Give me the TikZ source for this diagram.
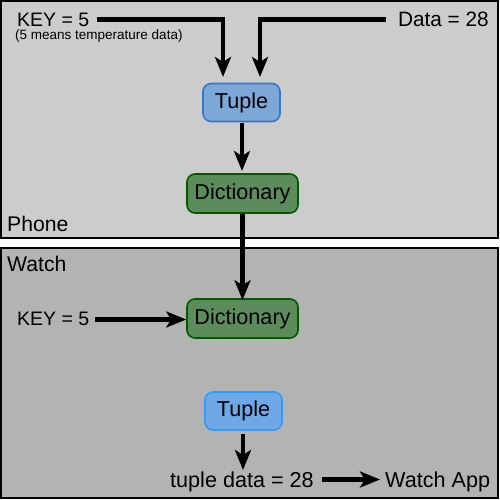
\documentclass[tikz,border=0pt]{standalone}
\usepackage{fontspec}
\setmainfont{Liberation Sans}
\usetikzlibrary{arrows.meta}
\definecolor{phonebg}{RGB}{204,204,204}
\definecolor{watchbg}{RGB}{179,179,179}
\definecolor{tupAfill}{RGB}{124,167,214}
\definecolor{tupAdraw}{RGB}{52,120,204}
\definecolor{tupBfill}{RGB}{111,168,230}
\definecolor{tupBdraw}{RGB}{51,153,255}
\definecolor{dicfill}{RGB}{92,140,92}
\definecolor{dicdraw}{RGB}{0,90,0}
\begin{document}
\begin{tikzpicture}[x=1pt,y=-1pt,
  every node/.style={font=\fontsize{21.6}{23}\selectfont, inner sep=0pt},
  panel/.style={draw=black, line width=2pt},
  tuplebox/.style={rounded corners=8pt, line width=1.6pt, minimum height=38pt, minimum width=77pt},
  dictbox/.style={rounded corners=8pt, fill=dicfill, draw=dicdraw, line width=1.6pt, minimum height=39pt, minimum width=111pt},
  flow/.style={line width=4.5pt, -{Stealth[length=20pt,width=16pt,inset=5pt]}},
  lbl/.style={anchor=base west},
  keyfont/.style={font=\fontsize{19.5}{21}\selectfont}
]
\useasboundingbox (0,0) rectangle (500,500);
\fill[white] (0,0) rectangle (500,500);
\draw[panel, fill=phonebg] (1,1) rectangle (498,238);
\draw[panel, fill=watchbg] (1,248) rectangle (498,498);

\node[lbl, font=\fontsize{21.2}{23}\selectfont] (phone) at (7,231) {Phone};
\node[lbl, font=\fontsize{21.2}{23}\selectfont] (watch) at (7,271) {Watch};

\node[lbl, keyfont] (key1) at (17,27) {KEY = 5};
\node[lbl, font=\fontsize{13.5}{15}\selectfont] (note) at (15,40) {(5 means temperature data)};
\node[anchor=base east, font=\fontsize{20.8}{22}\selectfont] (data) at (489,27) {Data = 28};

\node[tuplebox, fill=tupAfill, draw=tupAdraw] (tup1) at (241.5,102.5) {Tuple};
\node[dictbox] (dic1) at (242.5,193.5) {Dictionary};
\node[dictbox] (dic2) at (242.5,318.5) {Dictionary};
\node[tuplebox, fill=tupBfill, draw=tupBdraw] (tup2) at (243.5,411) {Tuple};

\node[lbl, keyfont] (key2) at (17,325) {KEY = 5};
\node[lbl] (tdata) at (170,487) {tuple data = 28};
\node[lbl] (app) at (385,487) {Watch App};

\coordinate (k1s) at (97,19.5);
\coordinate (c1) at (223,19.5);
\coordinate (t1a) at (223,77);
\coordinate (d1s) at (386,19.5);
\coordinate (c2) at (260,19.5);
\coordinate (t1b) at (260,77);
\coordinate (t1o) at (242,123);
\coordinate (d1i) at (242,171);
\coordinate (k2s) at (95,319.5);
\coordinate (t2o) at (243,434);
\coordinate (t2i) at (243,470);
\coordinate (tds) at (322,479.5);
\coordinate (ape) at (380,479.5);

\draw[flow] (k1s) -- (c1) -- (t1a);
\draw[flow] (d1s) -- (c2) -- (t1b);
\draw[flow] (t1o) -- (d1i);
\draw[flow] (dic1.south) -- ([yshift=-2pt]dic2.north);
\draw[flow] (k2s) -- (dic2.west |- k2s);
\draw[flow] (t2o) -- (t2i);
\draw[flow] (tds) -- (ape);
\end{tikzpicture}
\end{document}
